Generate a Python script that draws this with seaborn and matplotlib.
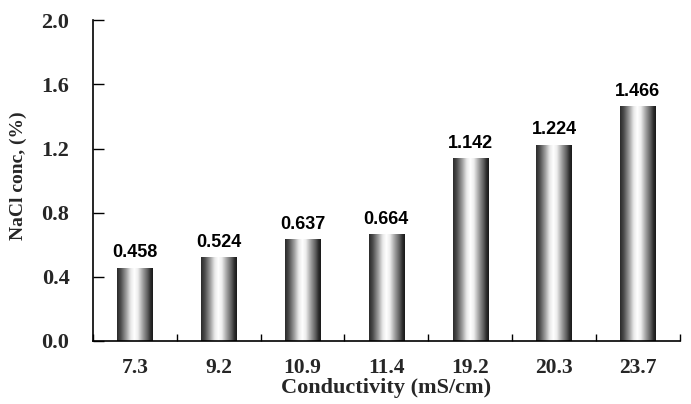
import numpy as np
import pandas as pd
import matplotlib
matplotlib.use("Agg")
import matplotlib.pyplot as plt
import seaborn as sns
from matplotlib.colors import LinearSegmentedColormap

categories = ["7.3", "9.2", "10.9", "11.4", "19.2", "20.3", "23.7"]
values = [0.458, 0.524, 0.637, 0.664, 1.142, 1.224, 1.466]
yticks = [0.0, 0.4, 0.8, 1.2, 1.6, 2.0]

sns.set_theme(style="white")
plt.rcParams["font.family"] = ["Liberation Serif", "DejaVu Serif"]

df = pd.DataFrame({"cond": categories, "nacl": values})

fig = plt.figure(figsize=(6.91, 4.04), dpi=100)
ax = fig.add_axes([0.1346, 0.156, 0.849, 0.794])

sns.barplot(data=df, x="cond", y="nacl", ax=ax, width=0.42, color="#888888",
            edgecolor="none", linewidth=0, saturation=1)

cmap = LinearSegmentedColormap.from_list("cyl", [
    (0.0, "#2a2a2a"), (0.1, "#4a4a4a"), (0.25, "#9a9a9a"), (0.38, "#e8e8e8"),
    (0.48, "#ffffff"), (0.58, "#eeeeee"), (0.72, "#a0a0a0"), (0.86, "#5a5a5a"),
    (0.93, "#2e2e2e"), (1.0, "#181818")])
grad = np.linspace(0, 1, 256).reshape(1, -1)

for p, v in zip(ax.patches, values):
    x0, y0 = p.get_x(), p.get_y()
    w, h = p.get_width(), p.get_height()
    im = ax.imshow(grad, cmap=cmap, aspect="auto", extent=[x0, x0 + w, y0, y0 + h],
                   zorder=p.get_zorder() + 0.1, interpolation="bilinear")
    im.set_clip_path(p)
    ax.annotate(f"{v:.3f}", (x0 + w / 2, y0 + h), xytext=(0, 4.5),
                textcoords="offset points", ha="center", va="bottom",
                fontsize=13, fontweight="bold", family=["Liberation Sans", "DejaVu Sans"],
                color="black")

ax.set_xlim(-0.5, len(categories) - 0.5)
ax.set_ylim(0, 2.0)
ax.set_yticks(yticks)
ax.set_yticklabels([f"{t:.1f}" for t in yticks], fontsize=16, fontweight="bold")
ax.set_xticks(range(len(categories)))
ax.set_xticklabels(categories, fontsize=15.5, fontweight="bold")
ax.tick_params(axis="x", which="major", length=0, pad=12)
ax.set_xticks(np.arange(-0.5, len(categories) + 0.5, 1), minor=True)
ax.tick_params(axis="x", which="minor", direction="in", length=5, width=1, color="black", bottom=True)
ax.tick_params(axis="y", direction="in", length=8, width=1, color="black", left=True, pad=17)
for lab in ax.get_yticklabels():
    lab.set_horizontalalignment("right")

for s in ["top", "right"]:
    ax.spines[s].set_visible(False)
for s in ["left", "bottom"]:
    ax.spines[s].set_color("black")
    ax.spines[s].set_linewidth(1.2)

ax.set_xlabel("Conductivity (mS/cm)", fontsize=16, fontweight="bold", labelpad=0)
ax.set_ylabel("NaCl conc, (%)", fontsize=14, fontweight="bold")
ax.yaxis.set_label_coords(-(93 - 27) / 587, 0.515)
ax.grid(False)

fig.savefig("out.png", dpi=100, facecolor="white")
